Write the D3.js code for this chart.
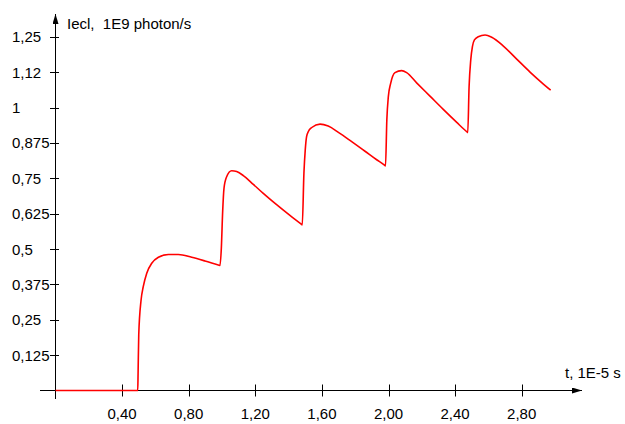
<!DOCTYPE html>
<html>
<head>
<meta charset="utf-8">
<script src="https://cdn.jsdelivr.net/npm/d3@7"></script>
<style>
  body { margin: 0; background: #fff; }
  text { font-family: "Liberation Sans", Arial, sans-serif; font-size: 15px; fill: #000; white-space: pre; }
</style>
</head>
<body>
<div id="chart"></div>
<script>
// time in 1E-5 s, intensity in 1E9 photon/s
var times = [0, 0.494, 0.496, 0.500, 0.514, 0.527, 0.548, 0.578, 0.618, 0.678, 0.738, 0.818, 0.898, 0.982, 0.988,
  0.996, 1.004, 1.012, 1.028, 1.058, 1.088, 1.128, 1.188, 1.248, 1.328, 1.408, 1.476, 1.482,
  1.492, 1.500, 1.508, 1.518, 1.539, 1.589, 1.638, 1.699, 1.779, 1.859, 1.929, 1.976, 1.982,
  1.990, 1.999, 2.013, 2.039, 2.079, 2.109, 2.169, 2.249, 2.329, 2.410, 2.470, 2.476,
  2.484, 2.494, 2.504, 2.516, 2.539, 2.580, 2.620, 2.690, 2.770, 2.850, 2.920, 2.974]
var values = [0, 0, 0.061, 0.197, 0.320, 0.367, 0.415, 0.450, 0.471, 0.481, 0.481, 0.471, 0.458, 0.443, 0.442,
  0.503, 0.633, 0.715, 0.756, 0.777, 0.774, 0.760, 0.729, 0.697, 0.657, 0.619, 0.588, 0.585,
  0.768, 0.851, 0.898, 0.915, 0.930, 0.942, 0.935, 0.913, 0.880, 0.846, 0.816, 0.797, 0.794,
  0.957, 1.039, 1.086, 1.124, 1.131, 1.124, 1.088, 1.041, 0.994, 0.948, 0.915, 0.912,
  1.074, 1.169, 1.216, 1.240, 1.251, 1.257, 1.249, 1.218, 1.172, 1.126, 1.089, 1.062]

var yTicks = [0.125, 0.25, 0.375, 0.5, 0.625, 0.75, 0.875, 1, 1.125, 1.25]
var yTickLabels = ["0,125", "0,25", "0,375", "0,5", "0,625", "0,75", "0,875", "1", "1,12", "1,25"]
var xTicks = [0.4, 0.8, 1.2, 1.6, 2.0, 2.4, 2.8]
var xTickLabels = ["0,40", "0,80", "1,20", "1,60", "2,00", "2,40", "2,80"]

var width = 625, height = 424

var svg = d3.select("#chart")
  .append("svg")
  .attr("width", width)
  .attr("height", height)

var x = d3.scaleLinear().domain([0, 3]).range([55.5, 555])
var y = d3.scaleLinear().domain([0, 1.25]).range([390.5, 37])

// arrow heads
var defs = svg.append("defs")
defs.append("marker")
  .attr("id", "arrow")
  .attr("viewBox", "0 0 10 6")
  .attr("refX", 10).attr("refY", 3)
  .attr("markerWidth", 10).attr("markerHeight", 6)
  .attr("markerUnits", "userSpaceOnUse")
  .attr("orient", "auto")
  .append("path")
  .attr("d", "M0,0 L10,3 L0,6 Z")
  .attr("fill", "#000")

// x axis line
svg.append("line")
  .attr("x1", 40).attr("x2", 582)
  .attr("y1", y(0)).attr("y2", y(0))
  .attr("stroke", "#000").attr("stroke-width", 1)
  .attr("marker-end", "url(#arrow)")

// y axis line
svg.append("line")
  .attr("x1", x(0)).attr("x2", x(0))
  .attr("y1", 399).attr("y2", 14)
  .attr("stroke", "#000").attr("stroke-width", 1)
  .attr("marker-end", "url(#arrow)")

// x ticks
svg.selectAll(".xtick")
  .data(xTicks)
  .enter().append("line")
  .attr("class", "xtick")
  .attr("x1", d => Math.round(x(d)) + 0.5).attr("x2", d => Math.round(x(d)) + 0.5)
  .attr("y1", y(0) - 6).attr("y2", y(0) + 6)
  .attr("stroke", "#000")

svg.selectAll(".xlabel")
  .data(xTicks)
  .enter().append("text")
  .attr("class", "xlabel")
  .attr("x", d => x(d))
  .attr("y", 419)
  .attr("text-anchor", "middle")
  .text((d, i) => xTickLabels[i])

// y ticks
svg.selectAll(".ytick")
  .data(yTicks)
  .enter().append("line")
  .attr("class", "ytick")
  .attr("x1", 50).attr("x2", 59)
  .attr("y1", d => Math.round(y(d)) + 0.5).attr("y2", d => Math.round(y(d)) + 0.5)
  .attr("stroke", "#000")

svg.selectAll(".ylabel")
  .data(yTicks)
  .enter().append("text")
  .attr("class", "ylabel")
  .attr("x", 12)
  .attr("y", d => y(d))
  .attr("dy", "0.36em")
  .text((d, i) => yTickLabels[i])

// axis titles
svg.append("text").attr("x", 67).attr("y", 29).text("Iecl,  1E9 photon/s")
svg.append("text").attr("x", 565).attr("y", 378).text("t, 1E-5 s")

// curve
var line = d3.line()
  .x(d => x(d[0]))
  .y(d => y(d[1]))
  .curve(d3.curveMonotoneX)

svg.append("path")
  .datum(d3.zip(times, values))
  .attr("fill", "none")
  .attr("stroke", "#ff0000")
  .attr("stroke-width", 1.6)
  .attr("stroke-linejoin", "round")
  .attr("d", line)
</script>
</body>
</html>
